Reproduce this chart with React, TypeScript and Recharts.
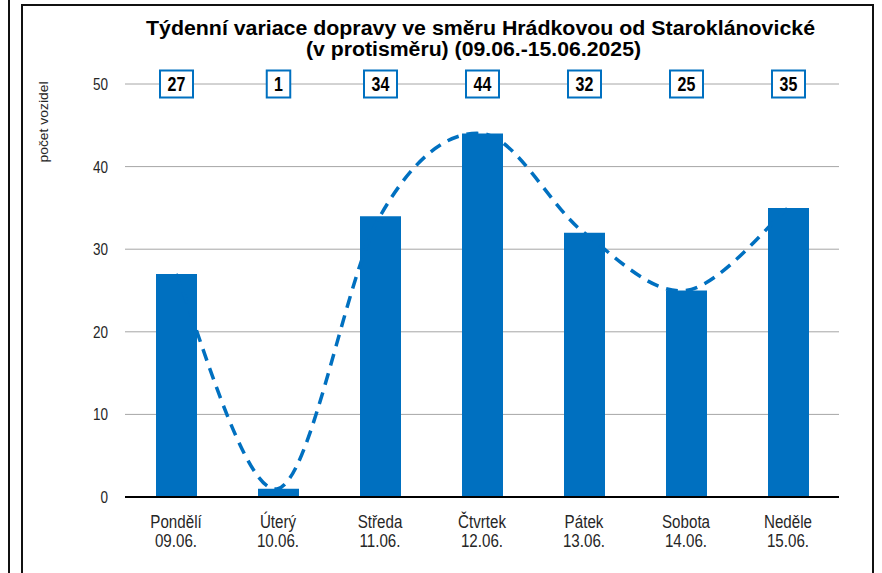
import React from 'react';
import { ComposedChart, Bar, Line, XAxis, YAxis, CartesianGrid, LabelList } from 'recharts';

const days = ['Pondělí', 'Úterý', 'Středa', 'Čtvrtek', 'Pátek', 'Sobota', 'Neděle'];
const dates = ['09.06.', '10.06.', '11.06.', '12.06.', '13.06.', '14.06.', '15.06.'];
const vehicles = [27, 1, 34, 44, 32, 25, 35];
const yTicks = [0, 10, 20, 30, 40, 50];
const AXIS_MAX = 50;
const titleLines = [
  'Týdenní variace dopravy ve směru Hrádkovou od Staroklánovické',
  '(v protisměru) (09.06.-15.06.2025)',
];
const yAxisTitle = 'počet vozidel';

const data = days.map((d, i) => ({ day: d, date: dates[i], count: vehicles[i] }));

const SANS = '"Liberation Sans", Arial, sans-serif';
const BLUE = '#0070C0';
const NARROW_SCALE = 0.82;

// Excel-like smoothed line (Catmull-Rom / cardinal tension 0)
const smoothCurve: any = (context: any) => {
  let xs: number[] = [];
  let ys: number[] = [];
  return {
    areaStart() {},
    areaEnd() {},
    lineStart() {
      xs = [];
      ys = [];
    },
    point(x: number, y: number) {
      xs.push(+x);
      ys.push(+y);
    },
    lineEnd() {
      const n = xs.length;
      if (!n) return;
      context.moveTo(xs[0], ys[0]);
      for (let i = 0; i < n - 1; i++) {
        const x0 = i > 0 ? xs[i - 1] : xs[i];
        const y0 = i > 0 ? ys[i - 1] : ys[i];
        const x1 = xs[i], y1 = ys[i];
        const x2 = xs[i + 1], y2 = ys[i + 1];
        const x3 = i + 2 < n ? xs[i + 2] : xs[i + 1];
        const y3 = i + 2 < n ? ys[i + 2] : ys[i + 1];
        context.bezierCurveTo(
          x1 + (x2 - x0) / 6,
          y1 + (y2 - y0) / 6,
          x2 - (x3 - x1) / 6,
          y2 - (y3 - y1) / 6,
          x2,
          y2
        );
      }
    },
  };
};

const NarrowText = ({ x, y, anchor, size, weight, fill, children }: any) => (
  <text
    transform={`translate(${x},${y}) scale(${NARROW_SCALE},1)`}
    textAnchor={anchor}
    fontFamily={SANS}
    fontSize={size}
    fontWeight={weight || 'normal'}
    fill={fill}
  >
    {children}
  </text>
);

const DayTick = (props: any) => {
  const { x, y, payload } = props;
  const idx = payload.index;
  return (
    <g>
      <NarrowText x={x} y={y + 31} anchor="middle" size={18.5} fill="#262626">{payload.value}</NarrowText>
      <NarrowText x={x} y={y + 50} anchor="middle" size={18.5} fill="#262626">{dates[idx]}</NarrowText>
    </g>
  );
};

const ValueTick = (props: any) => {
  const { x, y, payload } = props;
  return (
    <g>
      <NarrowText x={x} y={y + 6} anchor="end" size={16.5} fill="#262626">{payload.value}</NarrowText>
    </g>
  );
};

const BoxLabel = (props: any) => {
  const { x, y, width, height, value } = props;
  const v = Number(value);
  if (!v) return null;
  const cx = Number(x) + Number(width) / 2;
  const y50 = Number(y) + Number(height) - (AXIS_MAX * Number(height)) / v;
  const txt = String(value);
  const w = txt.length * 9.5 + 14;
  const h = 27;
  return (
    <g>
      <rect x={cx - w / 2} y={y50 - h / 2} width={w} height={h} fill="#fff" stroke={BLUE} strokeWidth={2} />
      <NarrowText x={cx} y={y50 + 7} anchor="middle" size={19.5} weight="bold" fill="#000">{txt}</NarrowText>
    </g>
  );
};

export default function App() {
  return (
    <div style={{ position: 'absolute', left: 0, top: 0, width: 882, height: 573, background: '#fff', overflow: 'hidden' }}>
      <div style={{ position: 'absolute', left: 8, top: 0, width: 2, height: 573, background: '#111' }} />
      <div
        style={{
          position: 'absolute',
          left: 21,
          top: 4,
          width: 853,
          height: 700,
          border: '2px solid #111',
          boxSizing: 'border-box',
        }}
      />
      <div style={{ position: 'absolute', left: 0, top: 0 }}>
        <ComposedChart width={882} height={573} data={data} margin={{ top: 84, right: 43, bottom: 0, left: 0 }}>
          <CartesianGrid horizontal vertical={false} stroke="#a6a6a6" strokeWidth={1} />
          <XAxis
            dataKey="day"
            height={76}
            interval={0}
            axisLine={{ stroke: '#000', strokeWidth: 2 }}
            tickLine={false}
            tickSize={0}
            tickMargin={0}
            tick={<DayTick />}
          />
          <YAxis
            width={125}
            domain={[0, AXIS_MAX]}
            ticks={yTicks}
            axisLine={false}
            tickLine={false}
            tickSize={0}
            tickMargin={17}
            tick={<ValueTick />}
          />
          <Line
            dataKey="count"
            type={smoothCurve}
            stroke={BLUE}
            strokeWidth={3.5}
            strokeDasharray="12 8"
            dot={false}
            activeDot={false}
            isAnimationActive={false}
          />
          <Bar dataKey="count" fill={BLUE} barSize={41} isAnimationActive={false}>
            <LabelList dataKey="count" content={BoxLabel} />
          </Bar>
        </ComposedChart>
      </div>
      <svg width={882} height={573} style={{ position: 'absolute', left: 0, top: 0, pointerEvents: 'none' }}>
        <text x={146} y={35} fontFamily={SANS} fontWeight="bold" fontSize={20} fill="#000" textLength={669} lengthAdjust="spacingAndGlyphs">
          {titleLines[0]}
        </text>
        <text x={306} y={56} fontFamily={SANS} fontWeight="bold" fontSize={20} fill="#000" textLength={335} lengthAdjust="spacingAndGlyphs">
          {titleLines[1]}
        </text>
        <text
          x={0}
          y={0}
          transform="translate(48,122) rotate(-90)"
          textAnchor="middle"
          fontFamily={SANS}
          fontSize={13}
          fill="#262626"
          textLength={81}
          lengthAdjust="spacingAndGlyphs"
        >
          {yAxisTitle}
        </text>
      </svg>
    </div>
  );
}
